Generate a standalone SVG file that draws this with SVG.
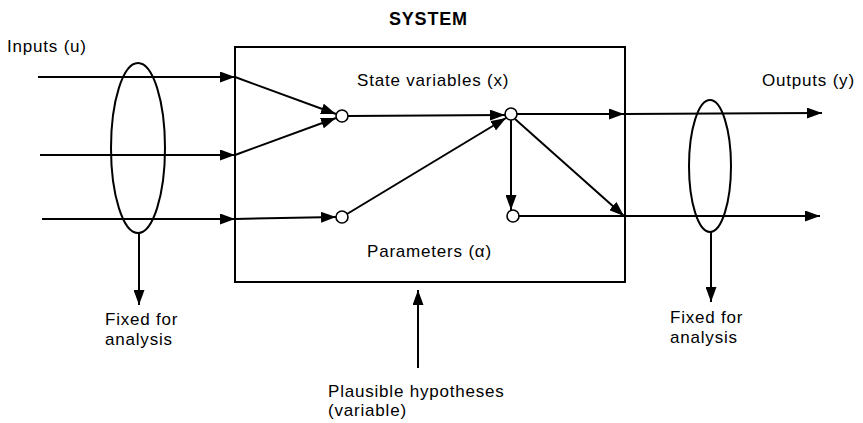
<svg xmlns="http://www.w3.org/2000/svg" width="863" height="423" viewBox="0 0 863 423">
  <style>
    .ln { stroke: #000; stroke-width: 2; fill: none; }
    .nd { stroke: #000; stroke-width: 1.6; fill: #fff; }
    .tx { font-family: "Liberation Sans", Arial, sans-serif; font-size: 17px; letter-spacing: 0.8px; fill: #000; }
    .ttl { font-family: "Liberation Sans", Arial, sans-serif; font-size: 18px; letter-spacing: 0.8px; font-weight: bold; fill: #000; }
  </style>
  <defs>
    <marker id="ah" viewBox="0 0 15 11" refX="15" refY="5.5" markerWidth="15" markerHeight="11" markerUnits="userSpaceOnUse" orient="auto">
      <path d="M0,0 L15,5.5 L0,11 Z" fill="#000"/>
    </marker>
  </defs>

  <rect width="863" height="423" fill="#fff"/>

  <!-- system boundary -->
  <g id="system">
    <rect x="235" y="47" width="390" height="235" class="ln"/>
    <text x="389" y="25" class="ttl">SYSTEM</text>
    <text x="357" y="86" class="tx">State variables (x)</text>
    <text x="367" y="257" class="tx">Parameters (α)</text>
  </g>

  <!-- input and output bundles -->
  <g id="inputs-bundle">
    <ellipse cx="138" cy="148" rx="27" ry="85" class="ln"/>
    <text x="7" y="52" class="tx">Inputs (u)</text>
    <text x="105" y="325" class="tx">Fixed for</text>
    <text x="105" y="345" class="tx">analysis</text>
  </g>
  <g id="outputs-bundle">
    <ellipse cx="710" cy="166" rx="21" ry="66" class="ln"/>
    <text x="762" y="86" class="tx">Outputs (y)</text>
    <text x="670" y="323" class="tx">Fixed for</text>
    <text x="670" y="343" class="tx">analysis</text>
  </g>
  <g id="hypotheses">
    <text x="328" y="397" class="tx">Plausible hypotheses</text>
    <text x="328" y="416" class="tx">(variable)</text>
  </g>

  <!-- connectors -->
  <g id="connectors">
    <line x1="38" y1="77" x2="235" y2="77" class="ln" marker-end="url(#ah)"/>
    <line x1="40" y1="155" x2="235" y2="155" class="ln" marker-end="url(#ah)"/>
    <line x1="42" y1="219" x2="235" y2="219" class="ln" marker-end="url(#ah)"/>

    <line x1="235" y1="77" x2="336" y2="114" class="ln" marker-end="url(#ah)"/>
    <line x1="235" y1="155" x2="336" y2="118" class="ln" marker-end="url(#ah)"/>
    <line x1="235" y1="219" x2="336" y2="217" class="ln" marker-end="url(#ah)"/>

    <line x1="348" y1="116" x2="505" y2="115" class="ln" marker-end="url(#ah)"/>
    <line x1="347" y1="214" x2="506" y2="118" class="ln" marker-end="url(#ah)"/>

    <line x1="517" y1="114" x2="624" y2="114" class="ln" marker-end="url(#ah)"/>
    <line x1="511" y1="120" x2="511" y2="210" class="ln" marker-end="url(#ah)"/>
    <line x1="515" y1="119" x2="624" y2="216" class="ln" marker-end="url(#ah)"/>
    <line x1="519" y1="216" x2="624" y2="216" class="ln"/>

    <line x1="624" y1="114" x2="822" y2="113" class="ln" marker-end="url(#ah)"/>
    <line x1="624" y1="216" x2="820" y2="216" class="ln" marker-end="url(#ah)"/>

    <line x1="139" y1="233" x2="139" y2="305" class="ln" marker-end="url(#ah)"/>
    <line x1="711" y1="232" x2="711" y2="302" class="ln" marker-end="url(#ah)"/>
    <line x1="418" y1="368" x2="418" y2="290" class="ln" marker-end="url(#ah)"/>
  </g>

  <!-- junction nodes -->
  <g id="node-a"><circle cx="342" cy="116" r="6" class="nd"/></g>
  <g id="node-b"><circle cx="342" cy="217" r="6" class="nd"/></g>
  <g id="node-c"><circle cx="511" cy="114" r="6" class="nd"/></g>
  <g id="node-d"><circle cx="513" cy="216" r="6" class="nd"/></g>
</svg>
